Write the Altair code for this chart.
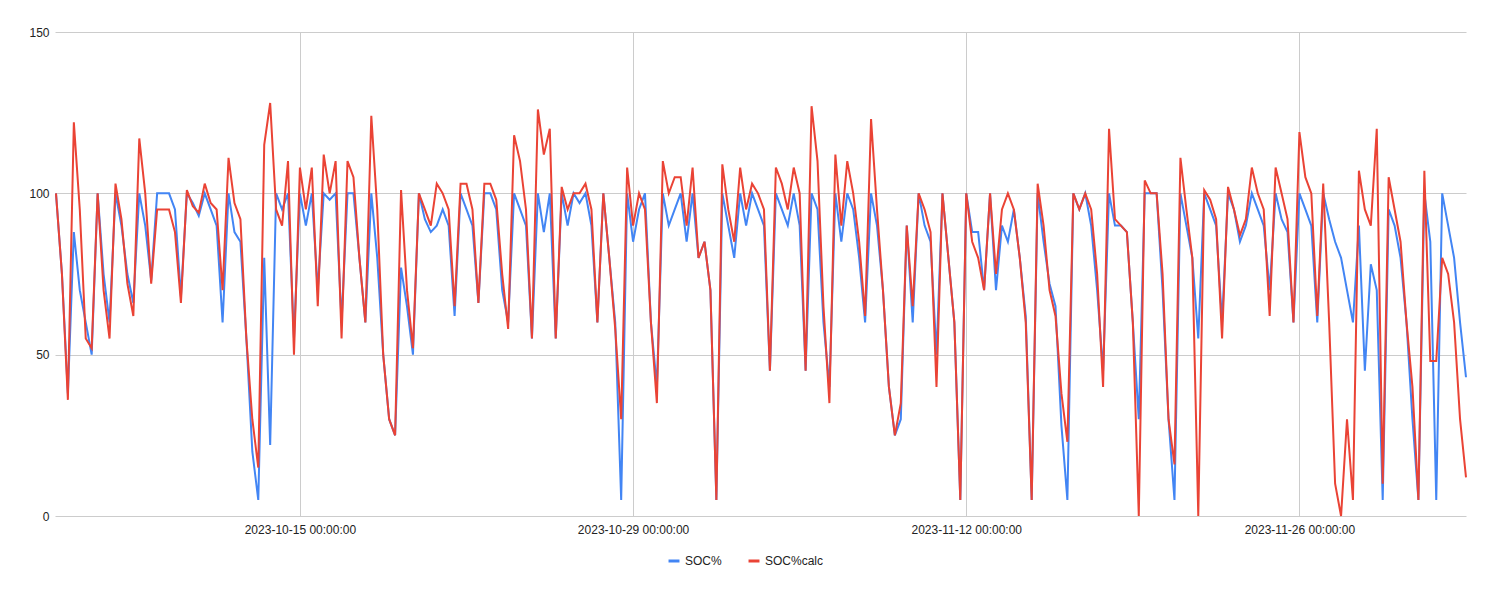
import altair as alt
import pandas as pd

# 6-hourly readings starting 2023-10-04 18:00
soc = [100,
    75, 38, 88, 70,   60, 50, 100, 75,   60, 100, 90, 75,   66, 100, 90, 73,
    100, 100, 100, 95,   68, 100, 97, 93,   100, 95, 90, 60,   100, 88, 85, 55,
    20, 5, 80, 22,   100, 95, 100, 55,   100, 90, 100, 70,   100, 98, 100, 60,
    100, 100, 80, 60,   100, 80, 50, 30,   25, 77, 65, 50,   100, 92, 88, 90,
    95, 90, 62, 100,   95, 90, 66, 100,   100, 95, 70, 60,   100, 95, 90, 55,
    100, 88, 100, 55,   100, 90, 100, 97,   100, 90, 60, 100,   80, 60, 5, 100,
    85, 95, 100, 60,   40, 100, 90, 95,   100, 85, 100, 80,   85, 70, 5, 100,
    90, 80, 100, 90,   100, 95, 90, 45,   100, 95, 90, 100,   90, 45, 100, 95,
    60, 40, 100, 85,   100, 95, 80, 60,   100, 90, 70, 40,   25, 30, 90, 60,
    100, 90, 85, 50,   100, 80, 60, 5,   100, 88, 88, 70,   100, 70, 90, 85,
    95, 80, 62, 5,   100, 85, 72, 65,   28, 5, 100, 95,   100, 90, 70, 45,
    100, 90, 90, 88,   60, 30, 100, 100,   100, 70, 30, 5,   100, 90, 80, 55,
    100, 95, 90, 60,   100, 95, 85, 90,   100, 95, 90, 70,   100, 92, 88, 60,
    100, 95, 90, 60,   100, 92, 85, 80,   70, 60, 90, 45,   78, 70, 5, 95,
    90, 80, 60, 30,   5, 100, 85, 5,   100, 90, 80, 60,
    43]

soc_calc = [100,
    75, 36, 122, 95,   55, 52, 100, 70,   55, 103, 92, 72,   62, 117, 100, 72,
    95, 95, 95, 88,   66, 101, 96, 94,   103, 97, 95, 70,   111, 97, 92, 55,
    30, 15, 115, 128,   95, 90, 110, 50,   108, 95, 108, 65,   112, 100, 110, 55,
    110, 105, 80, 60,   124, 95, 50, 30,   25, 101, 70, 52,   100, 95, 90, 103,
    100, 95, 65, 103,   103, 95, 66, 103,   103, 98, 75, 58,   118, 110, 95, 55,
    126, 112, 120, 55,   102, 95, 100, 100,   103, 95, 60, 100,   80, 58, 30, 108,
    90, 100, 95, 60,   35, 110, 100, 105,   105, 90, 108, 80,   85, 70, 5, 109,
    95, 85, 108, 95,   103, 100, 95, 45,   108, 103, 95, 108,   100, 45, 127, 110,
    65, 35, 112, 90,   110, 100, 85, 62,   123, 95, 70, 40,   25, 35, 90, 65,
    100, 95, 88, 40,   100, 80, 60, 5,   100, 85, 80, 70,   100, 75, 95, 100,
    95, 80, 60, 5,   103, 90, 70, 62,   38, 23, 100, 95,   100, 95, 75, 40,
    120, 92, 90, 88,   60, 0, 104, 100,   100, 75, 30, 16,   111, 95, 80, 0,
    101, 98, 92, 55,   102, 95, 87, 92,   108, 100, 95, 62,   108, 100, 92, 60,
    119, 105, 100, 62,   103, 60, 10, 0,   30, 5, 107, 95,   90, 120, 10, 105,
    95, 85, 60, 40,   5, 107, 48, 48,   80, 75, 60, 30,
    12]

times = pd.date_range("2023-10-04 18:00", periods=len(soc), freq="6h")

df = pd.concat([
    pd.DataFrame({"time": times, "value": soc, "series": "SOC%"}),
    pd.DataFrame({"time": times, "value": soc_calc, "series": "SOC%calc"}),
])

tick_dates = [alt.DateTime(year=2023, month=m, date=d) for m, d in
              [(10, 15), (10, 29), (11, 12), (11, 26)]]

chart = alt.Chart(df).mark_line(strokeWidth=2).encode(
    x=alt.X("time:T", title=None,
            scale=alt.Scale(domain=[alt.DateTime(year=2023, month=10, date=4, hours=17),
                                    alt.DateTime(year=2023, month=12, date=3, hours=0)]),
            axis=alt.Axis(values=tick_dates, format="%Y-%m-%d %H:%M:%S", labelAngle=0,
                          domain=False, ticks=False, labelPadding=8,
                          gridColor="#cccccc", labelColor="#222222", labelFontSize=12)),
    y=alt.Y("value:Q", title=None,
            scale=alt.Scale(domain=[0, 150]),
            axis=alt.Axis(values=[0, 50, 100, 150], domain=False, ticks=False,
                          gridColor="#cccccc", labelColor="#222222", labelFontSize=12,
                          labelPadding=6)),
    color=alt.Color("series:N", title=None,
                    scale=alt.Scale(domain=["SOC%", "SOC%calc"], range=["#4285F4", "#EA4335"]),
                    legend=alt.Legend(orient="none", legendX=612, legendY=522,
                                      symbolType="stroke", symbolStrokeWidth=3,
                                      symbolSize=120, labelFontSize=12, labelColor="#222222",
                                      direction="horizontal", columnPadding=20))
).properties(
    width=1411, height=484,
    padding={"left": 20, "top": 18, "right": 10, "bottom": 5},
    background="white"
).configure_view(stroke=None).configure_axis(
    labelFont="Arial"
).configure_legend(labelFont="Arial")

chart.save("out.html", embed_options={"renderer": "svg", "actions": False})
